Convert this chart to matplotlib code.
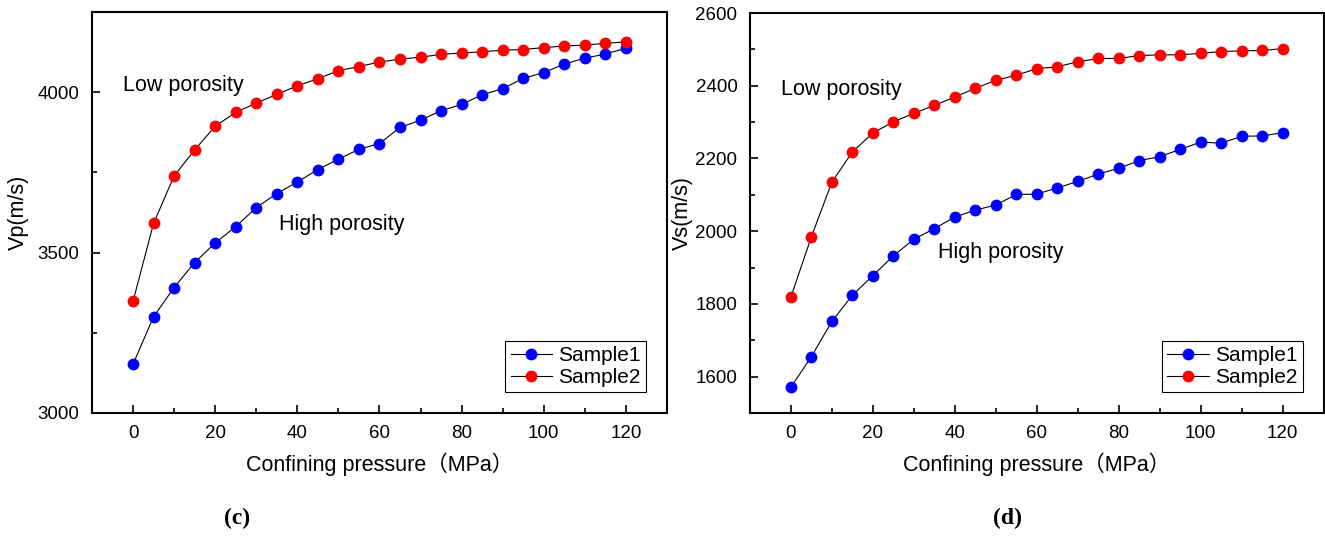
import matplotlib.pyplot as plt
from matplotlib.ticker import MultipleLocator

plt.rcParams['font.family'] = ['Liberation Sans', 'Noto Sans CJK SC']

pressure = [0, 5, 10, 15, 20, 25, 30, 35, 40, 45, 50, 55, 60,
            65, 70, 75, 80, 85, 90, 95, 100, 105, 110, 115, 120]

vp_sample1 = [3152, 3300, 3391, 3469, 3530, 3581, 3640, 3684, 3720, 3759, 3791, 3822, 3840,
              3890, 3913, 3942, 3962, 3992, 4011, 4043, 4061, 4088, 4106, 4119, 4137]
vp_sample2 = [3348, 3591, 3739, 3820, 3894, 3937, 3966, 3993, 4020, 4042, 4067, 4080, 4094,
              4103, 4109, 4118, 4122, 4126, 4131, 4133, 4139, 4144, 4147, 4152, 4157]

vs_sample1 = [1571, 1655, 1752, 1824, 1878, 1932, 1978, 2007, 2039, 2058, 2072, 2101, 2102,
              2119, 2137, 2157, 2173, 2194, 2205, 2225, 2245, 2242, 2261, 2262, 2271]
vs_sample2 = [1819, 1985, 2135, 2218, 2270, 2301, 2324, 2346, 2369, 2393, 2415, 2429, 2447,
              2452, 2466, 2475, 2475, 2483, 2485, 2485, 2489, 2494, 2496, 2497, 2502]

fig = plt.figure(figsize=(13.25, 5.4), dpi=100)
ax1 = fig.add_axes([0.0694, 0.2352, 0.434, 0.7426])
ax2 = fig.add_axes([0.566, 0.2352, 0.433, 0.7407])


def draw(ax, s1, s2, ylabel, ylim, ymajor, low_xy, high_xy, ypad):
    ax.plot(pressure, s1, '-o', color='black', lw=0.8, mfc='blue', mec='blue', ms=7.5, label='Sample1')
    ax.plot(pressure, s2, '-o', color='black', lw=0.8, mfc='red', mec='red', ms=7.5, label='Sample2')
    ax.set_xlim(-10, 130)
    ax.set_ylim(*ylim)
    ax.xaxis.set_major_locator(MultipleLocator(20))
    ax.xaxis.set_minor_locator(MultipleLocator(10))
    ax.yaxis.set_major_locator(MultipleLocator(ymajor))
    ax.yaxis.set_minor_locator(MultipleLocator(ymajor / 2))
    ax.tick_params(which='both', direction='in', top=False, right=False, labelsize=13.5, width=1.2)
    ax.tick_params(which='major', length=6, pad=9)
    ax.tick_params(which='minor', length=3.5)
    for sp in ax.spines.values():
        sp.set_linewidth(1.5)
    ax.set_xlabel('Confining pressure（MPa）', fontsize=15.5, labelpad=7)
    ax.set_ylabel(ylabel, fontsize=15.5, labelpad=ypad)
    ax.text(*low_xy, 'Low porosity', fontsize=15.5, va='center', ha='left')
    ax.text(*high_xy, 'High porosity', fontsize=15.5, va='center', ha='left')
    leg = ax.legend(loc='lower right', fontsize=15, fancybox=False, framealpha=1,
                    edgecolor='black', handlelength=2.0, borderpad=0.25,
                    labelspacing=0.15, handletextpad=0.3, borderaxespad=1.0)
    leg.get_frame().set_linewidth(0.8)


draw(ax1, vp_sample1, vp_sample2, 'Vp(m/s)', (3000, 4250), 500,
     (-2.4, 4020), (35.6, 3587), 6)
draw(ax2, vs_sample1, vs_sample2, 'Vs(m/s)', (1500, 2600), 200,
     (-2.4, 2389), (36, 1942), 2)

fig.text(0.179, 0.03, '(c)', fontsize=17, fontweight='bold', family='Liberation Serif', ha='center')
fig.text(0.76, 0.03, '(d)', fontsize=17, fontweight='bold', family='Liberation Serif', ha='center')

fig.savefig('out.png', dpi=100)
